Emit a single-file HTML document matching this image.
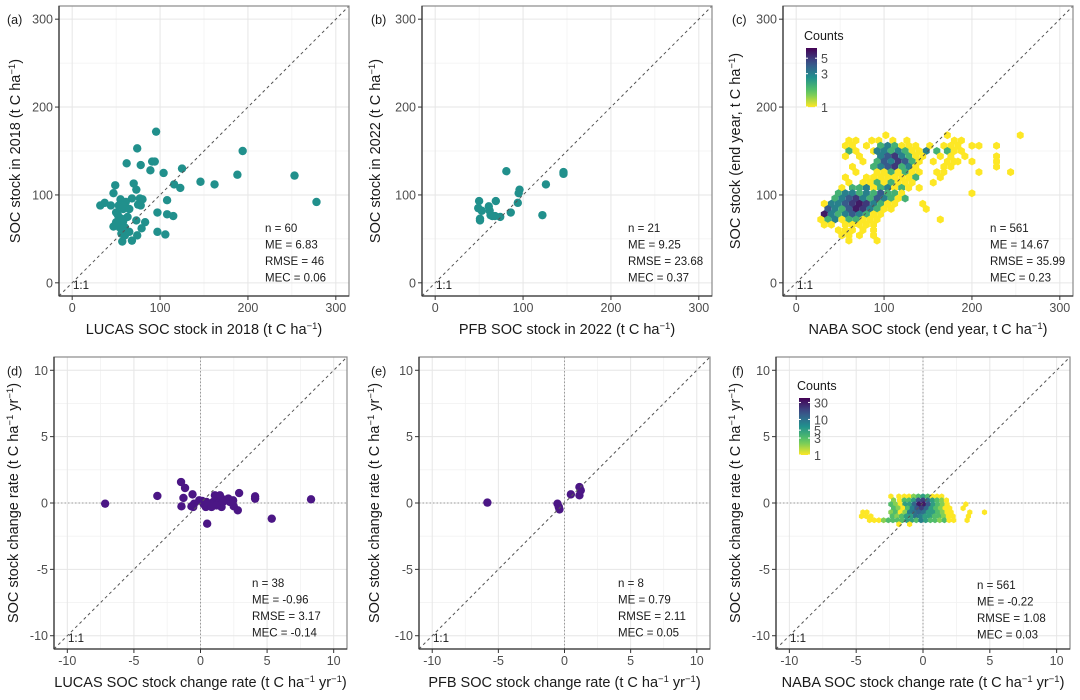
<!DOCTYPE html>
<html><head><meta charset="utf-8">
<style>
html,body{margin:0;padding:0;background:#fff;}
svg{display:block;font-family:"Liberation Sans",sans-serif;}
.tick{font-size:12.5px;fill:#4d4d4d;}
.ttl{font-size:14.5px;fill:#1a1a1a;}
.stat{font-size:11.5px;fill:#1a1a1a;}
.plab{font-size:12.5px;fill:#1a1a1a;}
</style></head>
<body>
<svg id="fig" width="1080" height="700" viewBox="0 0 1080 700"></svg>
<script>
// ---------- data ----------
const aX=[95.5,74,194,62,78,89,91,94,104,125,146,162,188,253,278,116,123,70,73,49,47,32,37,44,50,55,58,61,68,77,80,75,78,108,97,108,115,83,73,47,54,58,63,56,60,65,57,68,74,79,97,106,52,56,53,59,65,50,60];
const aY=[172,153,150,136,134,128,138,138,125,130,115,112,123,122,92,112,108,113,106,111,102,88,91,88,80,95,84,92,96,96,95,89,88,94,80,78,76,69,71,64,63,70,75,56,54,58,47,48,54,62,58,55,77,73,88,88,84,69,63];
const bX=[81,146,146,126,96,95,94,69,50,49,53,61,62,63,65,74,86,122,51,51,68];
const bY=[127,126,124,112,106,102,91,93,93,85,82,87,82,77,76,75,80,77,73,71,76];
const dX=[-7.16,-3.24,-1.46,-1.16,-1.28,-1.43,-0.6,-0.68,-0.48,0.13,0.4,0.5,0.95,1.2,1.33,1.5,1.83,2.2,2.5,2.8,2.9,4.1,4.1,5.35,8.3,0.7,1.08,1.46,2.09,0.83,0.25,0.45,-0.55,1.58,1.2,1.7,-0.1,2.45];
const dY=[-0.05,0.53,1.58,1.13,0.38,-0.25,0.65,-0.25,-0.05,0.15,-0.3,-1.56,0.08,0.45,-0.05,0.33,0.25,0.08,-0.25,-0.55,0.75,0.5,0.33,-1.18,0.28,-0.05,0.58,0.58,0.33,-0.3,-0.1,0.08,-0.3,-0.3,-0.18,0.1,0.2,0.2];
const eX=[-5.83,-0.53,-0.43,-0.38,0.48,1.13,1.23,1.13];
const eY=[0.03,-0.05,-0.3,-0.48,0.65,1.2,0.95,0.58];
const cRowY=[168,162,156,150,144,138,132,126,120,114,108,102,96,90,84,78,72,66,60,54,48];
const cRowCells=[
[[102,1],[172,1],[255,1]],
[[60,1],[68,1],[86,1],[94,1],[110,1],[126,1],[180,1],[188,1]],
[[56,1],[64,1],[80,1],[96,2],[104,3],[112,2],[120,1],[128,1],[136,1],[152,1],[168,1],[176,1],[184,1],[200,1],[208,1],[228,1]],
[[60,2],[68,1],[88,1],[92,3],[100,3],[108,2],[116,3],[124,2],[132,1],[140,1],[148,3],[160,2],[172,2],[180,1],[188,1]],
[[56,1],[72,1],[96,3],[104,4],[112,5],[120,3],[128,2],[136,1],[144,1],[164,1],[176,1],[192,1],[228,1]],
[[76,1],[92,2],[100,4],[108,3],[116,5],[124,4],[132,2],[140,1],[156,1],[172,1],[180,1],[184,1],[200,1],[228,1]],
[[64,1],[88,2],[96,3],[104,4],[112,5],[120,2],[128,3],[136,1],[168,1],[176,1],[228,1]],
[[68,1],[92,1],[100,1],[108,2],[116,1],[124,2],[132,1],[140,1],[160,1],[168,1],[208,1],[244,1]],
[[56,1],[80,1],[88,1],[96,1],[104,1],[112,1],[120,1],[128,1],[136,2],[164,1]],
[[60,1],[76,1],[84,1],[92,2],[100,1],[108,2],[116,1],[124,1],[132,1],[156,1]],
[[52,1],[64,2],[72,2],[80,3],[88,1],[96,2],[104,3],[112,1],[120,2],[128,1],[140,1]],
[[48,2],[56,3],[64,3],[72,2],[80,3],[88,2],[96,4],[104,2],[112,2],[120,1],[200,1]],
[[44,2],[52,3],[60,4],[68,5],[76,3],[84,2],[92,4],[100,3],[108,2],[116,1],[124,2]],
[[32,1],[40,3],[48,3],[56,4],[64,5],[72,6],[80,5],[88,3],[96,2],[104,1],[112,1],[144,1]],
[[36,4],[44,3],[52,2],[60,4],[68,6],[76,5],[84,3],[92,2],[100,1],[108,1],[148,1]],
[[32,6],[40,3],[48,2],[56,3],[64,4],[72,3],[80,2],[88,1],[96,1]],
[[28,1],[36,2],[44,3],[52,1],[60,2],[68,2],[76,1],[84,1],[92,1],[164,1]],
[[32,1],[40,1],[56,1],[64,1],[72,1],[80,1],[88,1]],
[[48,1],[56,1],[64,1],[76,1],[88,1]],
[[52,1],[60,1],[72,1],[88,1]],
[[60,1],[92,1]]
];
const fRowY=[0.5,0.2,-0.1,-0.4,-0.7,-1.0,-1.3,-1.6];
const fRowCells=[
[[-2.4,1],[-1.8,1],[-1.4,1],[-1.05,1],[-0.7,2],[-0.35,3],[0,5],[0.35,3],[0.7,1],[1.05,1],[1.4,1]],
[[-2.2,2],[-1.75,1],[-1.4,3],[-1.05,3],[-0.7,5],[-0.35,15],[0,20],[0.35,10],[0.7,5],[1.05,3],[1.4,2],[1.75,1]],
[[-2.4,3],[-2.05,2],[-1.7,1],[-1.35,5],[-1.0,5],[-0.65,12],[-0.3,30],[0.05,30],[0.4,15],[0.75,5],[1.1,3],[1.45,2],[1.8,1],[3.2,1]],
[[-2.2,3],[-1.85,2],[-1.5,1],[-1.15,3],[-0.8,8],[-0.45,15],[-0.1,20],[0.25,12],[0.6,5],[0.95,3],[1.3,2],[1.65,1],[2.0,1],[3.0,1]],
[[-4.5,1],[-4.2,1],[-2.4,2],[-2.05,3],[-1.7,1],[-1.35,2],[-1.0,8],[-0.65,10],[-0.3,12],[0.05,10],[0.4,5],[0.75,5],[1.1,3],[1.45,2],[1.8,1],[2.1,1],[3.5,1],[4.6,1]],
[[-4.6,1],[-4.25,1],[-3.9,1],[-2.3,3],[-1.95,2],[-1.6,3],[-1.25,5],[-0.9,5],[-0.55,10],[-0.2,8],[0.15,5],[0.5,5],[0.85,3],[1.2,3],[1.55,2],[1.9,1],[2.25,1],[3.4,1]],
[[-4.0,1],[-3.65,1],[-3.3,1],[-2.95,2],[-2.6,3],[-2.25,3],[-1.9,3],[-1.55,3],[-1.2,5],[-0.85,5],[-0.5,3],[-0.15,8],[0.2,5],[0.55,3],[0.9,3],[1.25,2],[1.6,3],[1.95,1],[2.3,1],[3.3,1]],
[[-1.8,1],[-1.0,1]]
];
const stockTicks=[0,100,200,300];
const rateTicks=[-10,-5,0,5,10];
const statsA=["n = 60","ME = 6.83","RMSE = 46","MEC = 0.06"];
const statsB=["n = 21","ME = 9.25","RMSE = 23.68","MEC = 0.37"];
const statsC=["n = 561","ME = 14.67","RMSE = 35.99","MEC = 0.23"];
const statsD=["n = 38","ME = -0.96","RMSE = 3.17","MEC = -0.14"];
const statsE=["n = 8","ME = 0.79","RMSE = 2.11","MEC = 0.05"];
const statsF=["n = 561","ME = -0.22","RMSE = 1.08","MEC = 0.03"];
const legCTicks=[1,3,5];
const legFTicks=[1,3,5,10,30];

const NS="http://www.w3.org/2000/svg";
const svg=document.getElementById('fig');
function mk(tag,attrs,parent){const e=document.createElementNS(NS,tag);for(const k in attrs)e.setAttribute(k,attrs[k]);(parent||svg).appendChild(e);return e;}
const VS=[[0,[68,1,84]],[0.25,[59,82,139]],[0.5,[33,144,141]],[0.75,[93,200,99]],[1,[253,231,37]]];
function viridis(t){t=Math.max(0,Math.min(1,t));for(let i=1;i<VS.length;i++){if(t<=VS[i][0]){const a=VS[i-1],b=VS[i],f=(t-a[0])/(b[0]-a[0]);return 'rgb('+a[1].map((v,j)=>Math.round(v+(b[1][j]-v)*f)).join(',')+')';}}return 'rgb(253,231,37)';}
function countColor(c,max){return viridis(1-Math.log(c)/Math.log(max));}

function panel(o){
  const g=mk('g',{});
  
  
  const L=o.x0,R=o.x1,T=o.y0,B=o.y1;
  const sx=v=>L+(v-o.lo)/(o.hi-o.lo)*(R-L);
  const sy=v=>B-(v-o.lo)/(o.hi-o.lo)*(B-T);
  mk('rect',{x:L,y:T,width:R-L,height:B-T,fill:'#fff'},g);
  const step=o.ticks[1]-o.ticks[0];
  for(let i=0;i<o.ticks.length-1;i++){const m=o.ticks[i]+step/2;
    mk('line',{x1:sx(m),x2:sx(m),y1:T,y2:B,stroke:'#f2f2f2','stroke-width':0.8},g);
    mk('line',{x1:L,x2:R,y1:sy(m),y2:sy(m),stroke:'#f2f2f2','stroke-width':0.8},g);}
  for(const t of o.ticks){
    mk('line',{x1:sx(t),x2:sx(t),y1:T,y2:B,stroke:'#e6e6e6','stroke-width':1},g);
    mk('line',{x1:L,x2:R,y1:sy(t),y2:sy(t),stroke:'#e6e6e6','stroke-width':1},g);}
  const clip='clip-'+o.id;
  const cp=mk('clipPath',{id:clip},g);mk('rect',{x:L,y:T,width:R-L,height:B-T},cp);
  const inner=mk('g',{'clip-path':'url(#'+clip+')'},g);
  if(o.zero){
    const zv=mk('line',{x1:sx(0),x2:sx(0),y1:T,y2:B,stroke:'#9a9a9a','stroke-width':1,'stroke-dasharray':'1.5,2'},inner);
    
    const zh=mk('line',{x1:L,x2:R,y1:sy(0),y2:sy(0),stroke:'#9a9a9a','stroke-width':1,'stroke-dasharray':'1.5,2'},inner);
    
  }
  if(o.px){
    for(let i=0;i<o.px.length;i++){
      const c=mk('circle',{cx:sx(o.px[i]),cy:sy(o.py[i]),r:4.2,fill:o.col},inner);
      
      
    }
  }
  if(o.rowsY){
    const hr=o.hexR;
    for(let r=0;r<o.rowsY.length;r++){
      for(const cell of o.rowsCells[r]){
        const cx=sx(cell[0]),cy=sy(o.rowsY[r]);
        let pts=[];for(let k=0;k<6;k++){const a=Math.PI/6+k*Math.PI/3;pts.push((cx+hr*Math.cos(a)).toFixed(1)+','+(cy+hr*Math.sin(a)).toFixed(1));}
        const h=mk('polygon',{points:pts.join(' '),fill:countColor(cell[1],o.maxC)},inner);
        
        
      }
    }
  }
  const dl=mk('line',{x1:sx(o.lo),y1:sy(o.lo),x2:sx(o.hi),y2:sy(o.hi),stroke:'#555','stroke-width':1,'stroke-dasharray':'3,3'},inner);
  
  const ol=mk('text',{x:L+14,y:B-7,class:'stat',fill:'#333'},g);ol.textContent='1:1';
  
  mk('rect',{x:L,y:T,width:R-L,height:B-T,fill:'none',stroke:'#8a8a8a','stroke-width':1.2},g);
  mk('line',{x1:L,y1:T,x2:L,y2:B,stroke:'#333','stroke-width':1.3},g);
  mk('line',{x1:L,y1:B,x2:R,y2:B,stroke:'#333','stroke-width':1.3},g);
  for(const t of o.ticks){
    mk('line',{x1:sx(t),x2:sx(t),y1:B,y2:B+4,stroke:'#333'},g);
    const tx=mk('text',{x:sx(t),y:B+16,'text-anchor':'middle',class:'tick'},g);tx.textContent=t;
    
    mk('line',{x1:L-4,x2:L,y1:sy(t),y2:sy(t),stroke:'#333'},g);
    const ty=mk('text',{x:L-6,y:sy(t)+4.5,'text-anchor':'end',class:'tick'},g);ty.textContent=t;
    
  }
  const xt=mk('text',{x:(L+R)/2,y:B+38,'text-anchor':'middle',class:'ttl'},g);xt.innerHTML=o.xTitle;
  
  const yc=(T+B)/2;
  const yt=mk('text',{x:o.yTitleX,y:yc,'text-anchor':'middle',class:'ttl',transform:'rotate(-90 '+o.yTitleX+' '+yc+')'},g);yt.innerHTML=o.yTitle;
  
  const pl=mk('text',{x:o.labX,y:sy(o.ticks[o.ticks.length-1])+5,class:'plab'},g);pl.textContent='('+o.id+')';
  
  const st=mk('g',{},g);
  
  o.stats.forEach((s,i)=>{const t=mk('text',{x:o.statX,y:o.statY+i*16.5,class:'stat'},st);t.textContent=s;});
  if(o.leg){
    const lg=mk('g',{},g);
    
    const t=mk('text',{x:o.leg.x-2,y:o.leg.y-8,class:'plab'},lg);t.textContent='Counts';
    const gid='grad-'+o.id;const gr=mk('linearGradient',{id:gid,x1:0,y1:1,x2:0,y2:0},lg);
    for(let k=0;k<=10;k++)mk('stop',{offset:k/10,'stop-color':viridis(1-k/10)},gr);
    mk('rect',{x:o.leg.x,y:o.leg.y,width:11,height:o.leg.h,fill:'url(#'+gid+')'},lg);
    for(const v of o.leg.ticks){const yy=o.leg.y+o.leg.h*(1-Math.log(v)/Math.log(o.maxC));
      mk('line',{x1:o.leg.x,x2:o.leg.x+2,y1:yy,y2:yy,stroke:'#fff'},lg);mk('line',{x1:o.leg.x+9,x2:o.leg.x+11,y1:yy,y2:yy,stroke:'#fff'},lg);
      const tl=mk('text',{x:o.leg.x+15,y:yy+5,class:'tick',fill:'#1a1a1a'},lg);tl.textContent=v;}
  }
}
const sup1='<tspan dy="-5" font-size="9.5">−1</tspan><tspan dy="5">)</tspan>';
const supR='<tspan dy="-5" font-size="9.5">−1</tspan><tspan dy="5"> yr</tspan><tspan dy="-5" font-size="9.5">−1</tspan><tspan dy="5">)</tspan>';
const topCfg={y0:6,y1:296,lo:-15,hi:315,ticks:stockTicks};
const botCfg={y0:357,y1:649,lo:-11,hi:11,ticks:rateTicks,zero:true};
panel(Object.assign({},topCfg,{id:'a',x0:59,x1:349,px:aX,py:aY,col:'#21908c',xTitle:'LUCAS SOC stock in 2018 (t C ha'+sup1,yTitle:'SOC stock in 2018 (t C ha'+sup1,yTitleX:20,labX:7,stats:statsA,statX:265,statY:232}));
panel(Object.assign({},topCfg,{id:'b',x0:422,x1:712,px:bX,py:bY,col:'#21908c',xTitle:'PFB SOC stock in 2022 (t C ha'+sup1,yTitle:'SOC stock in 2022 (t C ha'+sup1,yTitleX:380,labX:371,stats:statsB,statX:628,statY:232}));
panel(Object.assign({},topCfg,{id:'c',x0:783,x1:1073,rowsY:cRowY,rowsCells:cRowCells,hexR:4.0,maxC:7,xTitle:'NABA SOC stock (end year, t C ha'+sup1,yTitle:'SOC stock (end year, t C ha'+sup1,yTitleX:740,labX:732,stats:statsC,statX:990,statY:232,leg:{x:806,y:48,h:59,ticks:legCTicks}}));
panel(Object.assign({},botCfg,{id:'d',x0:54,x1:347,px:dX,py:dY,col:'#4b1685',xTitle:'LUCAS SOC stock change rate (t C ha'+supR,yTitle:'SOC stock change rate (t C ha'+supR,yTitleX:18,labX:7,stats:statsD,statX:252,statY:587}));
panel(Object.assign({},botCfg,{id:'e',x0:419,x1:710,px:eX,py:eY,col:'#4b1685',xTitle:'PFB SOC stock change rate (t C ha'+supR,yTitle:'SOC stock change rate (t C ha'+supR,yTitleX:379,labX:371,stats:statsE,statX:618,statY:587}));
panel(Object.assign({},botCfg,{id:'f',x0:776,x1:1070,rowsY:fRowY,rowsCells:fRowCells,hexR:3.0,maxC:40,xTitle:'NABA SOC stock change rate (t C ha'+supR,yTitle:'SOC stock change rate (t C ha'+supR,yTitleX:740,labX:732,stats:statsF,statX:977,statY:589,leg:{x:799,y:398,h:57,ticks:legFTicks}}));
</script>
</body></html>
